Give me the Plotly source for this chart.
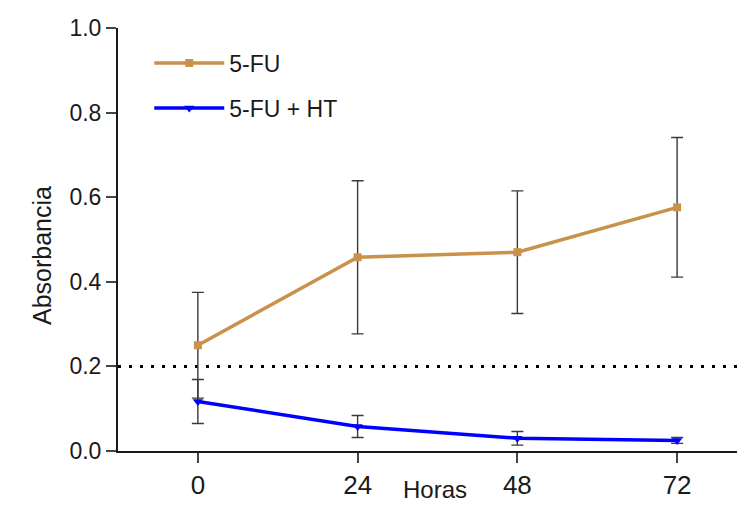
import plotly.graph_objects as go

horas = [0, 24, 48, 72]
fu_mean = [0.250, 0.458, 0.470, 0.576]
fu_err = [0.125, 0.181, 0.145, 0.165]
ht_mean = [0.117, 0.058, 0.030, 0.025]
ht_err = [0.052, 0.026, 0.016, 0.007]
x_ticks = [0, 24, 48, 72]
y_ticks = [0.0, 0.2, 0.4, 0.6, 0.8, 1.0]
threshold = 0.2

FONT = "Liberation Sans, Arial, sans-serif"
TAN = "#C9914A"
BLUE = "#0000FF"
INK = "#1a1a1a"

fig = go.Figure()
fig.add_trace(go.Scatter(
    x=horas, y=fu_mean, name="5-FU", mode="lines+markers",
    line=dict(color=TAN, width=3.5),
    marker=dict(symbol="square", size=8, color=TAN),
    error_y=dict(type="data", array=fu_err, visible=True, color="#3a3a3a", thickness=1.4, width=6),
    legendgroup="a",
))
fig.add_trace(go.Scatter(
    x=horas, y=ht_mean, name="5-FU + HT", mode="lines+markers",
    line=dict(color=BLUE, width=3.5),
    marker=dict(symbol="triangle-down", size=9, color=BLUE),
    error_y=dict(type="data", array=ht_err, visible=True, color="#3a3a3a", thickness=1.4, width=6),
    legendgroup="b",
))

fig.add_shape(type="line", xref="paper", x0=0, x1=1, yref="y", y0=threshold, y1=threshold,
              line=dict(color="black", width=3, dash="3px,8px"), layer="below")

fig.add_annotation(text="Horas", xref="paper", x=0.507, yref="paper", y=0, yshift=-24,
                   yanchor="top", showarrow=False, borderpad=0,
                   font=dict(family=FONT, size=24, color=INK))
fig.add_annotation(text="Absorbancia", xref="paper", x=0, xshift=-92, yref="paper", y=0.461,
                   textangle=-90, showarrow=False, font=dict(family=FONT, size=25, color=INK))

fig.update_layout(
    width=737, height=506,
    margin=dict(l=110, r=2, t=20, b=63),
    plot_bgcolor="white", paper_bgcolor="white",
    font=dict(family=FONT, size=22, color=INK),
    showlegend=True,
    legend=dict(x=0.05, y=0.968, xanchor="left", yanchor="top", bgcolor="rgba(0,0,0,0)",
                font=dict(size=23), itemwidth=70, tracegroupgap=12),
    xaxis=dict(range=[-12, 81.9], tickvals=x_ticks, ticks="outside", ticklen=10, tickwidth=2,
               showline=True, linecolor=INK, linewidth=2, showgrid=False, zeroline=False,
               tickfont=dict(size=26)),
    yaxis=dict(range=[0, 1.0], tickvals=y_ticks, tickformat=".1f", ticks="outside", ticklen=10,
               tickwidth=2, showline=True, linecolor=INK, linewidth=2, showgrid=False,
               zeroline=False, tickfont=dict(size=23)),
)
fig.write_html("out.html")
